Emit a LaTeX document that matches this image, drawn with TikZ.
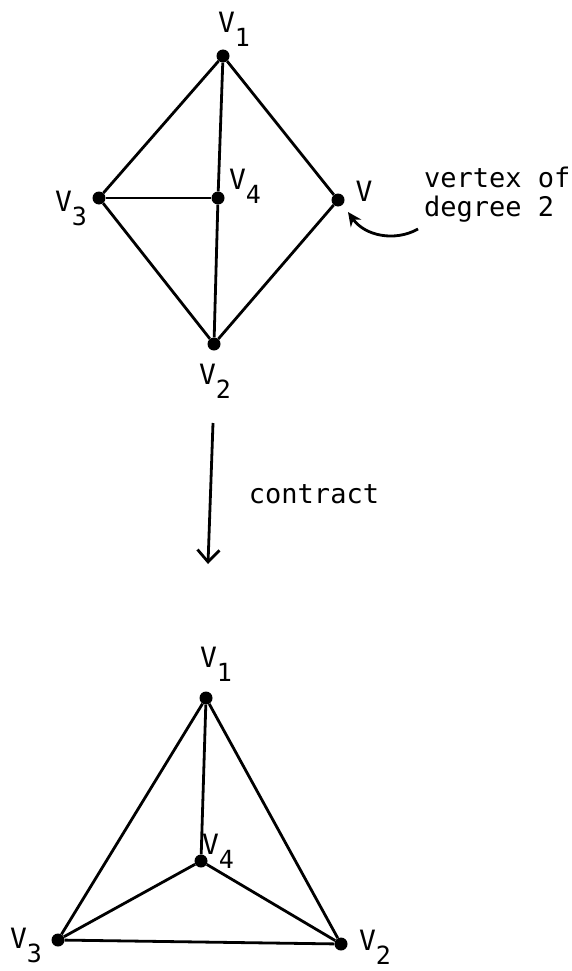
\documentclass[tikz,border=0pt]{standalone}
\usepackage{fontspec}
\setmonofont{DejaVu Sans Mono}
\usetikzlibrary{arrows.meta}
\newcommand{\vlab}[1]{V\raisebox{-0.5em}{\fontsize{25}{25}\selectfont #1}}
\begin{document}
\begin{tikzpicture}[x=1pt,y=-1pt,
  vtx/.style={circle,fill=black,inner sep=0pt,minimum size=13pt},
  edge/.style={line width=2.8pt},
  lab/.style={font=\ttfamily\fontsize{28}{28}\selectfont,inner sep=0pt},
  txt/.style={font=\ttfamily\fontsize{27}{29}\selectfont,inner sep=0pt,align=left}]
\useasboundingbox (0,0) rectangle (572,971);
% top graph
\node[vtx] (a1) at (223,56) {};
\node[vtx] (a3) at (99,198) {};
\node[vtx] (a4) at (218,198) {};
\node[vtx] (av) at (338,200) {};
\node[vtx] (a2) at (214,344) {};
\draw[edge] (a1) -- (a3) -- (a2) -- (av) -- (a1);
\draw[edge] (a1) -- (a4) -- (a2);
\draw[edge] (a3) -- (a4);
\node[lab] (la1) at (234,29) {\vlab{1}};
\node[lab] (la3) at (71,208) {\vlab{3}};
\node[lab] (la4) at (245,186) {\vlab{4}};
\node[lab] (lav) at (364,191) {V};
\node[lab] (la2) at (215,381) {\vlab{2}};
\node[txt,anchor=north west] (note) at (424,167) {vertex of\\degree 2};
\coordinate (cs) at (418,229);
\coordinate (ce) at (348,212);
\draw[edge,-{Stealth[length=14pt,width=13pt]}] (cs) .. controls (395,242) and (365,236) .. (ce);
% contract arrow
\coordinate (ts) at (213,423);
\coordinate (te) at (208,564);
\draw[edge,-{Straight Barb[length=12pt,width=22pt,line width=2.8pt]}] (ts) -- (te);
\node[txt] (ct) at (314,494) {contract};
% bottom graph
\node[vtx] (b1) at (206,698) {};
\node[vtx] (b4) at (201,861) {};
\node[vtx] (b3) at (58,940) {};
\node[vtx] (b2) at (341,944) {};
\draw[edge] (b1) -- (b3) -- (b2) -- (b1);
\draw[edge] (b1) -- (b4);
\draw[edge] (b3) -- (b4) -- (b2);
\node[lab] (lb1) at (216,664) {\vlab{1}};
\node[lab] (lb4) at (218,851) {\vlab{4}};
\node[lab] (lb3) at (26,945) {\vlab{3}};
\node[lab] (lb2) at (375,947) {\vlab{2}};
\end{tikzpicture}
\end{document}
